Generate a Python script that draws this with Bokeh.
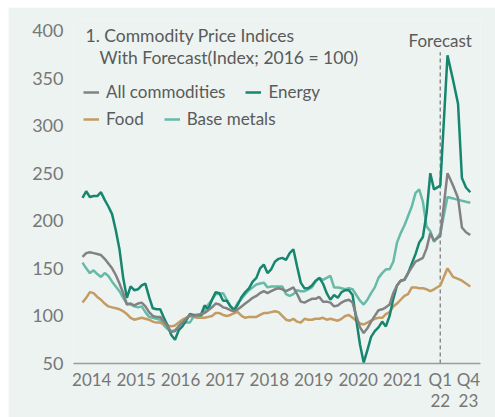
from bokeh.plotting import figure
from bokeh.models import Legend, LegendItem, Label, FixedTicker, Range1d
from bokeh.embed import file_html
from bokeh.resources import INLINE

# ---- data -------------------------------------------------------------
# historical: monthly, Jan 2014 .. Dec 2021 (index = months since Jan 2014)
hist_x = list(range(96))
# forecast: quarterly Q1 22 .. Q4 23 (positions on the same axis)
forecast_x = [96.7, 98.65, 100.15, 101.5, 102.55, 103.65, 104.8]

all_hist = [162, 166, 167, 166, 165, 164, 160, 155, 150, 143, 134, 124,
            112, 113, 111, 113, 114, 110, 104, 100, 99, 99, 94, 89,
            83, 84, 89, 93, 97, 101, 100, 101, 102, 103, 106, 109,
            113, 112, 109, 108, 106, 105, 107, 110, 113, 116, 119, 121,
            124, 126, 124, 126, 128, 129, 128, 126, 128, 130, 123, 115,
            114, 116, 118, 118, 120, 115, 115, 114, 110, 111, 114, 116,
            117, 114, 100, 88, 82, 87, 94, 100, 106, 107, 109, 112,
            124, 132, 137, 138, 145, 151, 157, 159, 161, 171, 187, 179]
all_fc = [184, 250, 237, 224, 193, 188, 185]

energy_hist = [224, 231, 225, 226, 226, 230, 222, 215, 207, 190, 170, 140,
               119, 131, 127, 128, 132, 134, 120, 108, 107, 107, 98, 90,
               80, 75, 85, 89, 95, 102, 101, 101, 101, 111, 107, 117,
               125, 124, 116, 116, 110, 106, 112, 120, 125, 129, 136, 140,
               150, 154, 145, 149, 157, 160, 161, 159, 166, 170, 152, 135,
               129, 129, 132, 137, 140, 134, 124, 117, 122, 119, 125, 127,
               127, 122, 96, 70, 51, 64, 78, 84, 88, 94, 89, 100,
               118, 132, 137, 138, 145, 155, 165, 177, 183, 208, 250, 233]
energy_fc = [237, 374, 348, 323, 245, 235, 230]

food_hist = [114, 119, 125, 124, 120, 117, 113, 110, 109, 108, 107, 105,
             102, 98, 96, 97, 98, 97, 96, 94, 93, 93, 91, 90,
             89, 90, 93, 96, 98, 100, 99, 98, 98, 98, 99, 100,
             103, 103, 101, 100, 101, 103, 104, 100, 98, 99, 99, 99,
             101, 103, 103, 104, 105, 104, 100, 96, 95, 97, 94, 93,
             97, 96, 96, 97, 97, 98, 96, 97, 96, 95, 97, 100,
             101, 98, 95, 92, 91, 93, 95, 97, 98, 98, 102, 104,
             110, 113, 117, 121, 123, 130, 130, 129, 129, 128, 126, 128]
food_fc = [132, 150, 141, 139, 137, 134, 131]

metals_hist = [156, 150, 145, 148, 144, 141, 145, 142, 136, 131, 126, 119,
               113, 112, 110, 109, 110, 104, 99, 98, 97, 96, 90, 86,
               84, 85, 89, 94, 93, 93, 99, 99, 99, 106, 112, 117,
               123, 123, 124, 117, 110, 107, 114, 118, 123, 127, 130, 133,
               134, 135, 130, 131, 131, 131, 131, 123, 121, 123, 127, 126,
               126, 128, 130, 136, 140, 138, 140, 142, 130, 130, 129, 128,
               129, 128, 122, 116, 112, 117, 124, 130, 140, 145, 149, 149,
               157, 177, 187, 195, 205, 215, 229, 233, 220, 194, 189, 178]
metals_fc = [187, 225, 223.5, 222, 221, 220, 219]

tick_pos = [2.5, 14.5, 26.5, 38.5, 50.5, 62.5, 74.5, 86.5, 96.7, 104.3]
tick_labels = ["2014", "2015", "2016", "2017", "2018", "2019", "2020", "2021",
               "Q1\n22", "Q4\n23"]
y_ticks = [50, 100, 150, 200, 250, 300, 350, 400]

title_lines = ["1. Commodity Price Indices", "With Forecast(Index; 2016 = 100)"]
forecast_text = "Forecast"

# ---- styling ----------------------------------------------------------
BG = "#ECF3F0"
FONT = "Lato"
TXT = "#5a5a5a"
C_ALL = "#828284"
C_EN = "#16866F"
C_FOOD = "#C49B62"
C_MET = "#66BAA6"

p = figure(width=487, height=410, output_backend="svg", toolbar_location=None,
           x_range=Range1d(-2.43, 107.57), y_range=Range1d(50, 410.5),
           min_border_left=65, min_border_right=15, min_border_top=13,
           min_border_bottom=54, margin=(7, 0, 0, 8))
p.background_fill_color = BG
p.border_fill_color = BG
p.outline_line_color = None
p.grid.grid_line_color = None

p.xaxis.ticker = FixedTicker(ticks=tick_pos)
p.xaxis.major_label_overrides = {t: l for t, l in zip(tick_pos, tick_labels)}
p.xaxis.axis_line_color = "#9c9c9c"
p.xaxis.axis_line_width = 1.5
p.xaxis.major_tick_line_color = None
p.xaxis.minor_tick_line_color = None
p.xaxis.major_tick_out = 0
p.xaxis.major_tick_in = 0
p.xaxis.major_label_standoff = 5
p.xaxis.major_label_text_font = FONT
p.xaxis.major_label_text_font_size = "17px"
p.xaxis.major_label_text_line_height = 1.0
p.xaxis.major_label_text_color = "#777777"

p.yaxis.ticker = FixedTicker(ticks=y_ticks)
p.yaxis.axis_line_color = None
p.yaxis.major_tick_line_color = None
p.yaxis.minor_tick_line_color = None
p.yaxis.major_tick_out = 0
p.yaxis.major_tick_in = 0
p.yaxis.major_label_standoff = 10
p.yaxis.major_label_text_font = FONT
p.yaxis.major_label_text_font_size = "18px"
p.yaxis.major_label_text_color = "#777777"

# forecast divider
fc_start = forecast_x[0]
p.segment(x0=[fc_start], x1=[fc_start], y0=[50], y1=[377], line_color="#8a8a8a",
          line_width=1.5, line_dash="4 3")
p.add_layout(Label(x=fc_start, y=389, text=forecast_text, text_align="center",
                   text_baseline="middle", text_font=FONT, text_font_size="17px",
                   text_color=TXT))

def series(h, f):
    return hist_x + forecast_x, h + f

r_met = p.line(*series(metals_hist, metals_fc), line_color=C_MET, line_width=2.5)
r_food = p.line(*series(food_hist, food_fc), line_color=C_FOOD, line_width=2.5)
r_en = p.line(*series(energy_hist, energy_fc), line_color=C_EN, line_width=2.5)
r_all = p.line(*series(all_hist, all_fc), line_color=C_ALL, line_width=2.5)

# title
p.add_layout(Label(x=12, y=328, x_units="screen", y_units="screen", text=title_lines[0],
                   text_baseline="middle", text_font=FONT, text_font_size="17.5px",
                   text_color=TXT))
p.add_layout(Label(x=26, y=306, x_units="screen", y_units="screen", text=title_lines[1],
                   text_baseline="middle", text_font=FONT, text_font_size="17.5px",
                   text_color=TXT))

def make_legend(items, loc):
    lg = Legend(items=items, location=loc, orientation="horizontal",
                background_fill_alpha=0, border_line_color=None,
                padding=0, margin=0, spacing=20, label_standoff=7,
                glyph_width=16, glyph_height=20, label_height=20,
                label_text_font=FONT, label_text_font_size="17px",
                label_text_color=TXT)
    return lg

p.add_layout(make_legend([LegendItem(label="All commodities", renderers=[r_all]),
                          LegendItem(label="Energy", renderers=[r_en])], (10, 261)))
p.add_layout(make_legend([LegendItem(label="Food", renderers=[r_food]),
                          LegendItem(label="Base metals", renderers=[r_met])], (10, 234)))

open("out.html", "w").write(file_html(p, INLINE))
